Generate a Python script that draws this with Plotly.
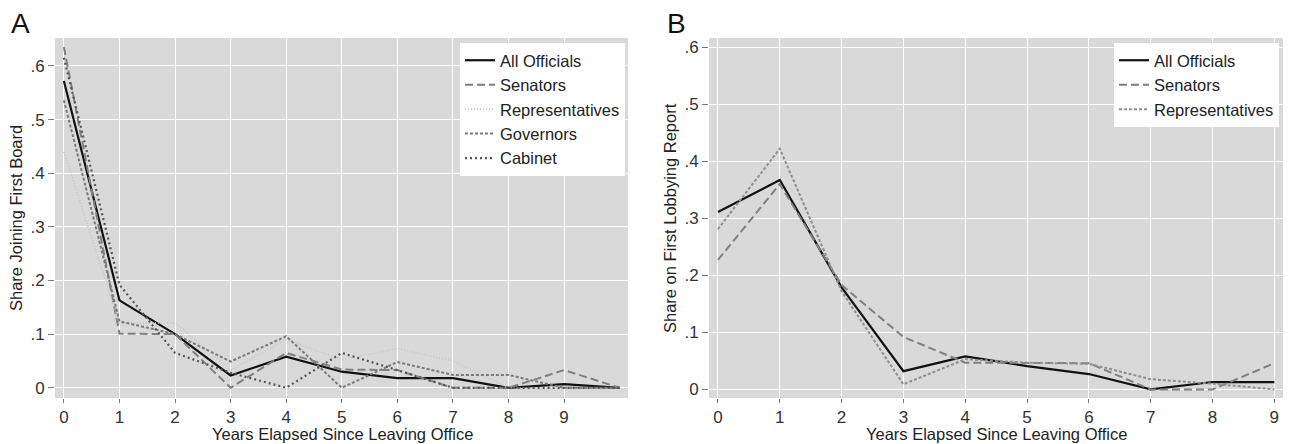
import plotly.graph_objects as go

# ---------------- data ----------------
years_a = [0, 1, 2, 3, 4, 5, 6, 7, 8, 9, 10]
a_all = [0.572, 0.163, 0.100, 0.023, 0.058, 0.030, 0.018, 0.018, 0.000, 0.007, 0.000]
a_senators = [0.635, 0.101, 0.100, 0.000, 0.065, 0.034, 0.033, 0.000, 0.000, 0.033, 0.000]
a_reps = [0.440, 0.120, 0.121, 0.033, 0.090, 0.052, 0.073, 0.050, 0.000, 0.000, 0.000]
a_governors = [0.536, 0.124, 0.100, 0.049, 0.096, 0.000, 0.048, 0.024, 0.024, 0.000, 0.000]
a_cabinet = [0.615, 0.192, 0.065, 0.028, 0.000, 0.065, 0.033, 0.000, 0.000, 0.000, 0.000]

years_b = [0, 1, 2, 3, 4, 5, 6, 7, 8, 9]
b_all = [0.311, 0.367, 0.179, 0.032, 0.058, 0.041, 0.027, 0.000, 0.013, 0.013]
b_senators = [0.227, 0.360, 0.183, 0.092, 0.047, 0.047, 0.046, 0.000, 0.000, 0.046]
b_reps = [0.281, 0.422, 0.172, 0.009, 0.053, 0.047, 0.045, 0.018, 0.010, 0.000]

x_ticks = [0, 1, 2, 3, 4, 5, 6, 7, 8, 9]
y_ticks = [0, 0.1, 0.2, 0.3, 0.4, 0.5, 0.6]
y_labels = ["0", ".1", ".2", ".3", ".4", ".5", ".6"]

FONT = "Liberation Sans, Arial, Helvetica, sans-serif"
FS = 17
W, H = 1291, 444

fig = go.Figure()

styles_a = [
    ("All Officials", a_all, dict(color="#111111", width=2.2, dash="solid")),
    ("Senators", a_senators, dict(color="#808080", width=2, dash="8px,4px")),
    ("Representatives", a_reps, dict(color="#c4c4c4", width=1.6, dash="1px,2px")),
    ("Governors", a_governors, dict(color="#7a7a7a", width=2, dash="3px,2px")),
    ("Cabinet", a_cabinet, dict(color="#555555", width=2.2, dash="2px,3px")),
]
for name, vals, ln in styles_a:
    fig.add_trace(go.Scatter(x=years_a, y=vals, mode="lines", name=name, line=ln,
                             xaxis="x", yaxis="y", legend="legend"))

styles_b = [
    ("All Officials", b_all, dict(color="#111111", width=2.2, dash="solid")),
    ("Senators", b_senators, dict(color="#808080", width=2, dash="8px,4px")),
    ("Representatives", b_reps, dict(color="#8f8f8f", width=2, dash="3px,2px")),
]
for name, vals, ln in styles_b:
    fig.add_trace(go.Scatter(x=years_b, y=vals, mode="lines", name=name, line=ln,
                             xaxis="x2", yaxis="y2", legend="legend2"))

ydom = [1 - 398 / H, 1 - 38 / H]
axis_common = dict(
    showgrid=True, gridcolor="white", gridwidth=1.2, zeroline=False,
    showline=False, ticks="outside", tickcolor="#777777", tickwidth=1,
    tickfont=dict(family=FONT, size=FS, color="#333333"), automargin=False,
    fixedrange=True,
)

legend_common = dict(xanchor="right", yanchor="top", bgcolor="white", borderwidth=0,
                     font=dict(family=FONT, size=16.5, color="#222"), itemwidth=30,
                     tracegroupgap=0)

fig.update_layout(
    width=W, height=H,
    margin=dict(l=0, r=0, t=0, b=0),
    paper_bgcolor="white", plot_bgcolor="#d9d9d9",
    font=dict(family=FONT, size=FS, color="#222222"),
    xaxis=dict(domain=[55 / W, 628 / W], range=[-0.16, 10.15], anchor="y",
               tickvals=x_ticks, ticklen=4, **axis_common),
    yaxis=dict(domain=ydom, range=[-0.019, 0.652], anchor="x",
               tickvals=y_ticks, ticktext=y_labels, ticklen=6, **axis_common),
    xaxis2=dict(domain=[709 / W, 1283 / W], range=[-0.145, 9.14], anchor="y2",
                tickvals=x_ticks, ticklen=4, **axis_common),
    yaxis2=dict(domain=ydom, range=[-0.015, 0.616], anchor="x2",
                tickvals=y_ticks, ticktext=y_labels, ticklen=6, **axis_common),
    legend=dict(x=625 / W, y=1 - 43 / H, **legend_common),
    legend2=dict(x=1279 / W, y=1 - 43 / H, **legend_common),
    showlegend=True,
)

annos = [
    dict(text="A", x=10 / W, y=1 - 23 / H, xanchor="left", yanchor="middle", font=dict(size=28, color="#111")),
    dict(text="B", x=666 / W, y=1 - 23 / H, xanchor="left", yanchor="middle", font=dict(size=28, color="#111")),
    dict(text="Years Elapsed Since Leaving Office", x=342 / W, y=0, xanchor="center", yanchor="bottom",
         font=dict(size=16.5, color="#222")),
    dict(text="Years Elapsed Since Leaving Office", x=996 / W, y=0, xanchor="center", yanchor="bottom",
         font=dict(size=16.5, color="#222")),
    dict(text="Share Joining First Board", x=16 / W, y=1 - 218 / H, xanchor="center", yanchor="middle",
         textangle=-90, font=dict(size=16.5, color="#222")),
    dict(text="Share on First Lobbying Report", x=670 / W, y=1 - 218 / H, xanchor="center", yanchor="middle",
         textangle=-90, font=dict(size=16.5, color="#222")),
]
for a in annos:
    fig.add_annotation(xref="paper", yref="paper", showarrow=False, font_family=FONT,
                       borderpad=0, **a)

fig.write_html(
    "out.html",
    config={"displayModeBar": False},
    post_script="document.body.style.margin='0';document.body.style.padding='0';"
                "document.body.style.overflow='hidden';",
)
